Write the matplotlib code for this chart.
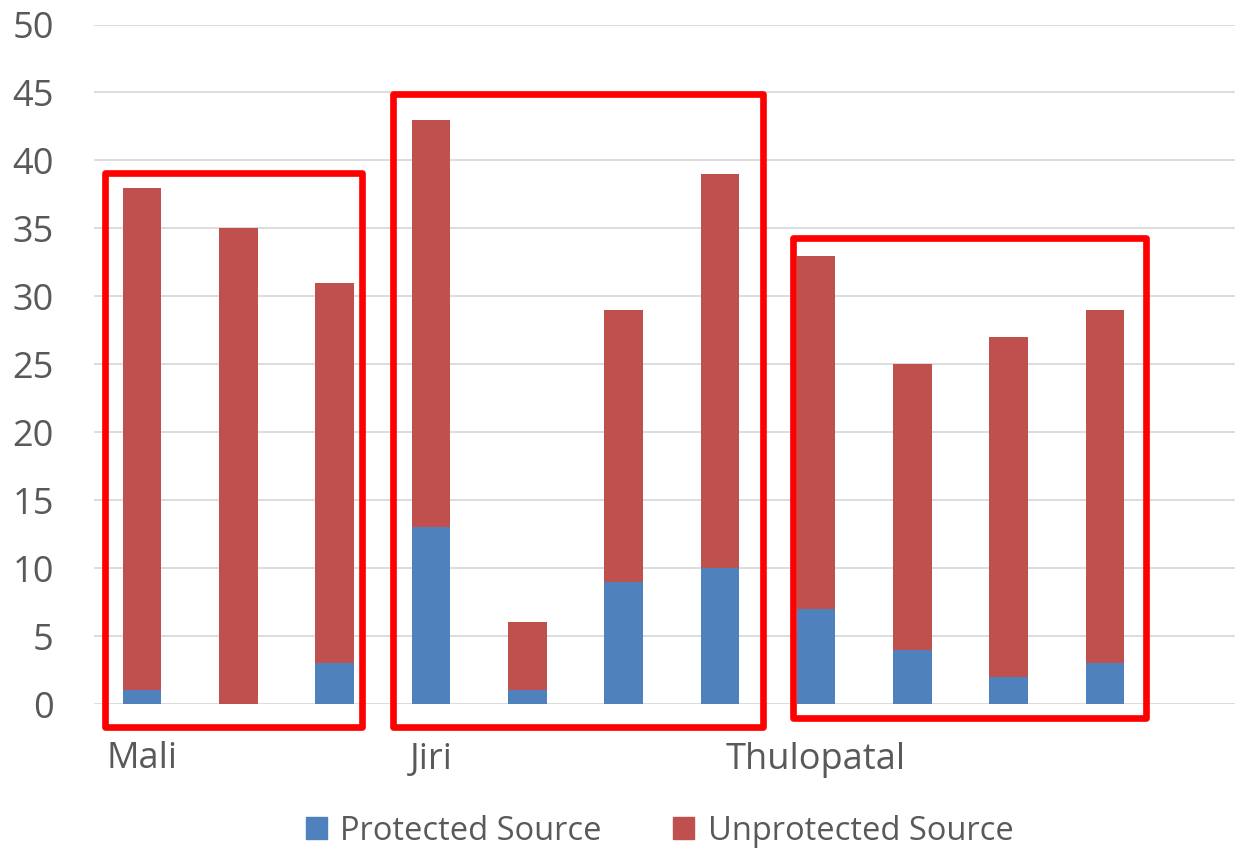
import numpy as np
import matplotlib
matplotlib.use("Agg")
import matplotlib.pyplot as plt
from matplotlib.patches import Rectangle, Patch

# sources per site visit, three sites
labels = ["Mali", "", "", "Jiri", "", "", "", "Thulopatal", "", "", ""]
protected = [1, 0, 3, 13, 1, 9, 10, 7, 4, 2, 3]
unprotected = [37, 35, 28, 30, 5, 20, 29, 26, 21, 25, 26]

# outline round each site: left, right, bottom, top (in data units)
outlines = [(-0.384, 2.28, -1.7, 39.1),
            (2.61, 6.45, -1.7, 44.9),
            (6.76, 10.43, -1.05, 34.3)]

blue = "#4F81BD"
red = "#C0504D"
grey = "#595959"

plt.rcParams['font.family'] = ['Open Sans', 'DejaVu Sans']

fig = plt.figure(figsize=(12.35, 8.5), dpi=100)
ax = fig.add_axes([94 / 1235, 146 / 850, 1 - 94 / 1235, 679.5 / 850])

x = np.arange(len(protected))
w = 0.4
ax.bar(x, protected, w, color=blue, zorder=3)
ax.bar(x, unprotected, w, bottom=protected, color=red, zorder=3)

ax.set_xlim(-0.5, 11.35)
ax.set_ylim(0, 50)
ax.set_yticks(np.arange(0, 51, 5))
ax.yaxis.grid(True, color="#D9D9D9", linewidth=1.3, zorder=0)
ax.set_axisbelow(True)
for s in ax.spines.values():
    s.set_visible(False)
ax.tick_params(axis="y", length=0, pad=29, labelsize=26, labelcolor=grey)

pos = [i for i, l in enumerate(labels) if l]
ax.set_xticks(pos)
ax.set_xticklabels([labels[i] for i in pos])
ax.tick_params(axis="x", length=0, pad=27, labelsize=26, labelcolor=grey)

for left, right, bottom, top in outlines:
    rect = Rectangle((left, bottom), right - left, top - bottom, fill=False,
                     edgecolor="#FF0000", linewidth=4.8, joinstyle="round",
                     clip_on=False, zorder=5)
    ax.add_patch(rect)

handles = [Patch(color=blue, label="Protected Source"),
           Patch(color=red, label="Unprotected Source")]
fig.legend(handles=handles, loc="center", bbox_to_anchor=(0.534, 0.022),
           ncol=2, frameon=False, fontsize=23.5, labelcolor=grey,
           handlelength=0.65, handleheight=0.65, handletextpad=0.4,
           columnspacing=2.2)

fig.savefig("out.png", dpi=100)
